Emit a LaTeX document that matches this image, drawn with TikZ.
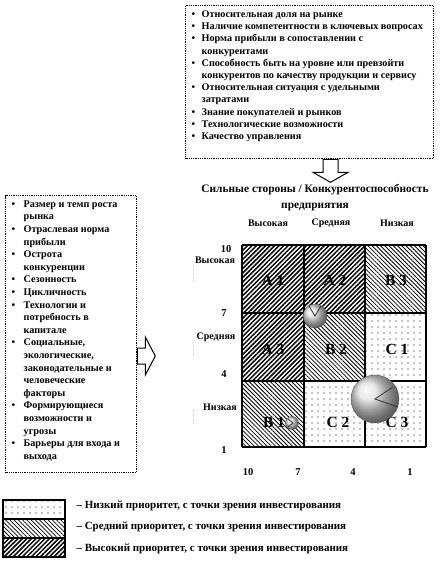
\documentclass[tikz,border=0pt]{standalone}
\usepackage{fontspec}
\setmainfont{Liberation Serif}
\usetikzlibrary{calc, patterns.meta}
\tikzset{
  factor box/.style={draw=black, line width=1.3pt, dash pattern=on 1pt off 0.8pt, fill=white,
    anchor=north west, inner xsep=6pt, inner ysep=5pt,
    font=\bfseries\fontsize{10.2}{12.2}\selectfont},
  block arrow/.style={draw=black, line width=1pt, fill=white, line join=miter},
  high cell/.style={pattern={Lines[angle=45, distance=3.2pt, line width=1.5pt]}},
  mid cell/.style={pattern={Lines[angle=-45, distance=3pt, line width=0.8pt]}},
  low cell/.style={pattern={Dots[distance=6pt, radius=0.6pt]}},
  grid line/.style={line width=1.6pt, black},
  cell label/.style={font=\bfseries\fontsize{15.5}{16}\selectfont, text=black},
  axis label/.style={font=\bfseries\fontsize{10}{11}\selectfont},
  axis number/.style={font=\bfseries\fontsize{10.5}{11}\selectfont},
  legend text/.style={font=\bfseries\fontsize{11}{12}\selectfont, anchor=west},
  unit ball/.style={ball color=gray!25, draw=gray!60!black, line width=0.3pt},
  wedge line/.style={line width=0.8pt, black!80},
  ghost line/.style={gray!45, dotted, line width=0.5pt},
}
\newcommand{\factoritem}[2]{\par\noindent\hangindent=#1\hangafter=1\makebox[#1][l]{\textbullet}#2}

\begin{document}
\begin{tikzpicture}[x=1pt, y=-1pt]
  \useasboundingbox (0,0) rectangle (447,561);
  % factor lists
  \node[factor box] (strengthbox) at (185,5) {\parbox[t][143pt][t]{236pt}{\raggedright
    \factoritem{10pt}{Относительная доля на рынке}
    \factoritem{10pt}{Наличие компетентности в ключевых вопросах}
    \factoritem{10pt}{Норма прибыли в сопоставлении с\newline конкурентами}
    \factoritem{10pt}{Способность быть на уровне или превзойти\newline конкурентов по качеству продукции и сервису}
    \factoritem{10pt}{Относительная ситуация с удельными\newline затратами}
    \factoritem{10pt}{Знание покупателей и рынков}
    \factoritem{10pt}{Технологические возможности}
    \factoritem{10pt}{Качество управления}}};
  \node[factor box, font=\bfseries\fontsize{10.2}{12.6}\selectfont] (marketbox) at (5,195) {\parbox[t][267pt][t]{119pt}{\raggedright
    \factoritem{12pt}{Размер и темп роста\newline рынка}
    \factoritem{12pt}{Отраслевая норма\newline прибыли}
    \factoritem{12pt}{Острота\newline конкуренции}
    \factoritem{12pt}{Сезонность}
    \factoritem{12pt}{Цикличность}
    \factoritem{12pt}{Технологии и\newline потребность в\newline капитале}
    \factoritem{12pt}{Социальные,\newline экологические,\newline законодательные и\newline человеческие\newline факторы}
    \factoritem{12pt}{Формирующиеся\newline возможности и\newline угрозы}
    \factoritem{12pt}{Барьеры для входа и\newline выхода}}};
  % block arrows
  \coordinate (downx) at (331,0);
  \coordinate (righty) at (0,348);
  \draw[block arrow] (strengthbox.south -| downx) ++(-8,0) -- ++(15,0) -- ++(0,13) -- ++(10,0)
    -- ++(-17.5,10) -- ++(-17.5,-10) -- ++(10,0) -- cycle;
  \draw[block arrow] (marketbox.east |- righty) -- ++(8,0) -- ++(0,-11) -- ++(10,19)
    -- ++(-10,19) -- ++(0,-11) -- ++(-8,0) -- cycle;
  % titles
  \node[align=center, font=\bfseries\fontsize{11.4}{16}\selectfont] (title) at (315,198)
    {Сильные стороны / Конкурентоспособность\\предприятия};
  \node[axis label] (colhigh) at (268,223) {Высокая};
  \node[axis label] (colmid) at (331,223) {Средняя};
  \node[axis label] (collow) at (397,223) {Низкая};
  \node[axis label] (rowhigh) at (215,260) {Высокая};
  \node[axis label] (rowmid) at (216,337) {Средняя};
  \node[axis label] (rowlow) at (220,407) {Низкая};
  \draw[ghost line] (193,265) -- (193,281);
  \draw[ghost line] (193,345) -- (193,356);
  \draw[ghost line] (193,410) -- (193,424);
  \node[axis number] (ten) at (226,249) {10};
  \node[axis number] (seven) at (224,313) {7};
  \node[axis number] (four) at (224,374) {4};
  \node[axis number] (one) at (224,450) {1};
  \node[axis number] (xten) at (248,472) {10};
  \node[axis number] (xseven) at (298,472) {7};
  \node[axis number] (xfour) at (353,472) {4};
  \node[axis number] (xone) at (410,472) {1};
  % matrix cells
  \fill[high cell] (242,245) rectangle (304,313);
  \fill[high cell] (304,245) rectangle (365,313);
  \fill[mid cell] (365,245) rectangle (426,313);
  \fill[high cell] (242,313) rectangle (304,381);
  \fill[mid cell] (304,313) rectangle (365,381);
  \fill[low cell] (365,313) rectangle (426,381);
  \fill[mid cell] (242,381) rectangle (304,447);
  \fill[low cell] (304,381) rectangle (365,447);
  \fill[low cell] (365,381) rectangle (426,447);
  \foreach \gx in {242,304,365,426} \draw[grid line] (\gx,245) -- (\gx,447);
  \foreach \gy in {245,313,381,447} \draw[grid line] (242,\gy) -- (426,\gy);
  \node[cell label] (a1) at (273,280) {A 1};
  \node[cell label] (a2) at (335,280) {A 2};
  \node[cell label] (b3) at (396,280) {B 3};
  \node[cell label] (a3) at (273,349) {A 3};
  \node[cell label] (b2) at (336,349) {B 2};
  \node[cell label] (c1) at (397,349) {C 1};
  \node[cell label] (b1) at (274,422) {B 1};
  \node[cell label] (c2) at (338,422) {C 2};
  \node[cell label] (c3) at (397,422) {C 3};
  % business units
  \shade[unit ball] (315,316) circle (12);
  \draw[wedge line] (309,306) -- (315,316) -- (321,306);
  \shade[unit ball] (375,399) circle (24);
  \draw[wedge line] (393,387) -- (375,399) -- (398,407);
  \shade[unit ball] (292,423) circle (6.5);
  \draw[wedge line] (288,419) -- (293,423) -- (288,427);
  % legend
  \draw[line width=1.4pt, low cell] (3,500) rectangle (65,519);
  \draw[line width=1.4pt, mid cell] (3,519) rectangle (65,538);
  \draw[line width=1.4pt, high cell] (3,538) rectangle (65,557);
  \node[legend text] (lowkey) at (73,506) {– Низкий приоритет, с точки зрения инвестирования};
  \node[legend text] (midkey) at (73,527) {– Средний приоритет, с точки зрения инвестирования};
  \node[legend text] (highkey) at (73,549) {– Высокий приоритет, с точки зрения инвестирования};
\end{tikzpicture}
\end{document}
